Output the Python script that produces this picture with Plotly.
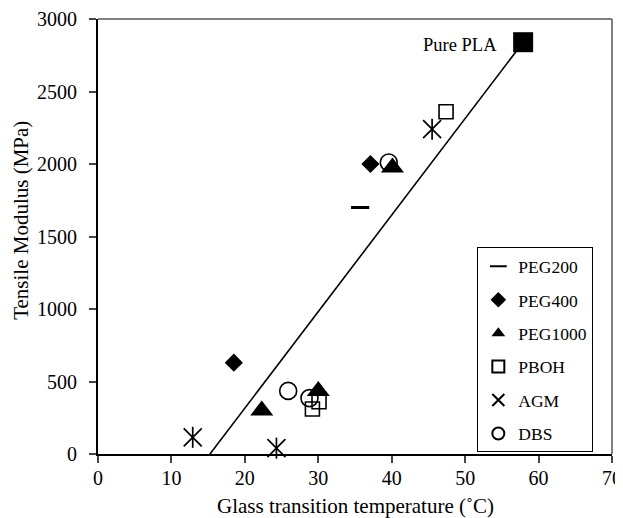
import plotly.graph_objects as go

# Data
peg200_x = [35.7]
peg200_y = [1700]
peg400_x = [37.1, 18.5]
peg400_y = [2000, 630]
peg1000_x = [40.1, 22.3, 30.0]
peg1000_y = [1975, 300, 435]
pboh_x = [47.4, 29.2, 30.1]
pboh_y = [2360, 310, 360]
agm_x = [45.5, 12.9, 24.3]
agm_y = [2240, 115, 40]
dbs_x = [39.6, 25.9, 28.8]
dbs_y = [2010, 435, 385]
pla_x = [57.9]
pla_y = [2840]
trend_x = [14.35, 57.9]
trend_y = [-60, 2840]

x_ticks = [0, 10, 20, 30, 40, 50, 60, 70]
y_ticks = [0, 500, 1000, 1500, 2000, 2500, 3000]

x_title = "Glass transition temperature (˚C)"
y_title = "Tensile Modulus (MPa)"

FONT = "Liberation Serif, Times New Roman, serif"
BLACK = "black"

fig = go.Figure()

fig.add_trace(go.Scatter(x=trend_x, y=trend_y, mode="lines",
                         line=dict(color=BLACK, width=1.6), showlegend=False,
                         hoverinfo="skip"))

fig.add_trace(go.Scatter(x=peg200_x, y=peg200_y, mode="markers", name="PEG200",
                         legendgroup="a",
                         marker=dict(symbol="line-ew-open", size=13, color=BLACK,
                                     line=dict(color=BLACK, width=3))))
fig.add_trace(go.Scatter(x=peg400_x, y=peg400_y, mode="markers", name="PEG400",
                         legendgroup="b",
                         marker=dict(symbol="diamond", size=14, color=BLACK)))
fig.add_trace(go.Scatter(x=peg1000_x, y=peg1000_y, mode="markers", name="PEG1000",
                         legendgroup="c",
                         marker=dict(symbol="triangle-up", size=20, color=BLACK)))
fig.add_trace(go.Scatter(x=pboh_x, y=pboh_y, mode="markers", name="PBOH",
                         legendgroup="d",
                         marker=dict(symbol="square-open", size=14, color=BLACK,
                                     line=dict(color=BLACK, width=1.6))))
fig.add_trace(go.Scatter(x=agm_x, y=agm_y, mode="markers", name="AGM",
                         legendgroup="e",
                         marker=dict(symbol="x-thin-open", size=18, color=BLACK,
                                     line=dict(color=BLACK, width=1.7))))
fig.add_trace(go.Scatter(x=agm_x, y=agm_y, mode="markers", name="AGM",
                         legendgroup="e", showlegend=False,
                         marker=dict(symbol="line-ns-open", size=15, color=BLACK,
                                     line=dict(color=BLACK, width=1.7))))
fig.add_trace(go.Scatter(x=dbs_x, y=dbs_y, mode="markers", name="DBS",
                         legendgroup="f",
                         marker=dict(symbol="circle-open", size=17, color=BLACK,
                                     line=dict(color=BLACK, width=1.6))))
fig.add_trace(go.Scatter(x=pla_x, y=pla_y, mode="markers", name="Pure PLA",
                         showlegend=False,
                         marker=dict(symbol="square", size=20, color=BLACK)))

fig.update_traces(cliponaxis=False, selector=dict(mode="markers"))

fig.add_annotation(x=pla_x[0], y=pla_y[0], text="Pure PLA", showarrow=False,
                   xanchor="right", yanchor="middle", xshift=-24, yshift=-3,
                   font=dict(family=FONT, size=18.5, color=BLACK))

# axis titles
fig.add_annotation(xref="paper", yref="paper", x=0.5, y=0, text=x_title,
                   showarrow=False, xanchor="center", yanchor="middle",
                   yshift=-52, font=dict(family=FONT, size=21, color=BLACK))
fig.add_annotation(xref="paper", yref="paper", x=0, y=0.536, text=y_title,
                   showarrow=False, xanchor="center", yanchor="middle",
                   textangle=-90, xshift=-77,
                   font=dict(family=FONT, size=21, color=BLACK))

# top and right frame lines (gray)
fig.add_shape(type="line", xref="paper", yref="paper", x0=0, x1=1, y0=1, y1=1,
              line=dict(color="#555555", width=1.5))
fig.add_shape(type="line", xref="paper", yref="paper", x0=1, x1=1, y0=0, y1=1,
              line=dict(color="#555555", width=1.5))

# the page body adds an 8px offset, so the figure is 8px smaller
fig.update_layout(
    width=615, height=510,
    margin=dict(l=90, r=11, t=11, b=64),
    paper_bgcolor="white", plot_bgcolor="white",
    font=dict(family=FONT, size=20, color=BLACK),
    legend=dict(x=0.738, y=0.475, xanchor="left", yanchor="top",
                bordercolor=BLACK, borderwidth=1, bgcolor="white",
                font=dict(family=FONT, size=17.5, color=BLACK),
                traceorder="grouped", tracegroupgap=7.7, itemwidth=30,
                itemsizing="constant"),
    xaxis=dict(range=[0, 70], tickvals=x_ticks, ticks="outside", ticklen=7,
               tickwidth=1.5, showline=True, linecolor=BLACK, linewidth=2,
               showgrid=False, zeroline=False, ticklabelstandoff=-2,
               automargin=False, tickfont=dict(family=FONT, size=20)),
    yaxis=dict(range=[0, 3000], tickvals=y_ticks, ticks="outside", ticklen=7,
               tickwidth=1.5, showline=True, linecolor=BLACK, linewidth=2,
               showgrid=False, zeroline=False, ticklabelstandoff=8,
               automargin=False, tickfont=dict(family=FONT, size=20)),
)

fig.write_html("out.html")
